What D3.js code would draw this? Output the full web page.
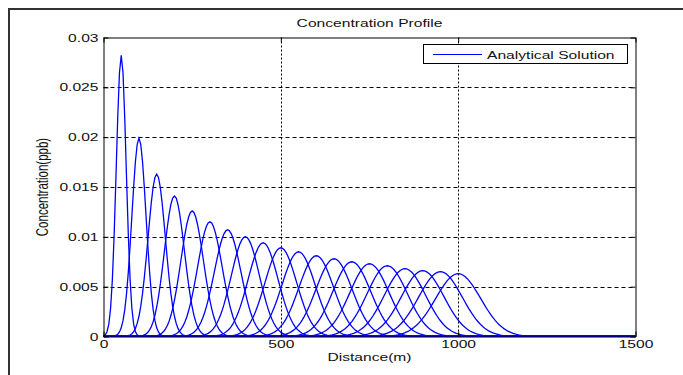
<!DOCTYPE html>
<html>
<head>
<meta charset="utf-8">
<script src="https://cdn.jsdelivr.net/npm/d3@7"></script>
<style>
  body { margin: 0; background: #fff; }
  svg { display: block; }
  text { font-family: "Liberation Sans", Arial, sans-serif; fill: #111; }
</style>
</head>
<body>
<div class="chart"></div>
<script>
// pulse centres (m), peak heights (ppb) and spreads (m)
const peakX = [50, 100, 150, 200, 250, 300, 350, 400, 450, 500,
               550, 600, 650, 700, 750, 800, 850, 900, 950, 1000];
const peakY = [0.0282, 0.0199, 0.0163, 0.0141, 0.0126, 0.0115, 0.0107, 0.0100, 0.0094, 0.0089,
               0.0085, 0.0081, 0.0078, 0.0075, 0.0073, 0.0071, 0.0068, 0.0066, 0.0065, 0.0063];
const spread = [14, 20, 24.5, 28.3, 31.7, 34.7, 37.5, 40, 42.5, 44.8,
                47, 49, 51, 53, 55, 56.7, 58.5, 60, 61.7, 63.3];
const xTicks = [0, 500, 1000, 1500];
const yTicks = [0, 0.005, 0.01, 0.015, 0.02, 0.025, 0.03];
const titleText = "Concentration Profile";
const xLabel = "Distance(m)";
const yLabel = "Concentration(ppb)";
const legendLabel = "Analytical Solution";

const width = 683;
const height = 375;
const plot = { left: 103.5, right: 635.5, top: 37.5, bottom: 336.5 };
const stretch = 1.42; // text in the picture is widened

const x = d3.scaleLinear().domain([0, 1500]).range([plot.left, plot.right]);
const y = d3.scaleLinear().domain([0, 0.03]).range([plot.bottom, plot.top]);

const svg = d3.select(".chart").append("svg")
    .attr("width", width)
    .attr("height", height);

// outer figure frame
svg.append("rect")
    .attr("x", 9).attr("y", 9)
    .attr("width", 800).attr("height", 500)
    .attr("fill", "none")
    .attr("stroke", "#333")
    .attr("stroke-width", 2);

// grid
svg.append("g").selectAll("line")
    .data(yTicks.filter(d => d > 0 && d < 0.03))
    .enter().append("line")
    .attr("x1", plot.left).attr("x2", plot.right)
    .attr("y1", d => Math.round(y(d)) + 0.5).attr("y2", d => Math.round(y(d)) + 0.5)
    .attr("stroke", "#000")
    .attr("stroke-dasharray", "4,3");

svg.append("g").selectAll("line")
    .data(xTicks.filter(d => d > 0 && d < 1500))
    .enter().append("line")
    .attr("x1", d => Math.round(x(d)) + 0.5).attr("x2", d => Math.round(x(d)) + 0.5)
    .attr("y1", plot.top).attr("y2", plot.bottom)
    .attr("stroke", "#000")
    .attr("stroke-dasharray", "2,2");

// curves
svg.append("clipPath").attr("id", "clip")
    .append("rect")
    .attr("x", plot.left).attr("y", plot.top - 2)
    .attr("width", plot.right - plot.left).attr("height", plot.bottom - plot.top + 2);

const samples = d3.range(0, 1501, 5);
const line = d3.line()
    .x(d => x(d[0]))
    .y(d => y(d[1]));

svg.append("g")
    .attr("clip-path", "url(#clip)")
    .selectAll("path")
    .data(peakX.map((c, i) => ({ c, h: peakY[i], s: spread[i] })))
    .enter().append("path")
    .attr("d", p => line(samples.map(v => [v, p.h * Math.exp(-((v - p.c) ** 2) / (2 * p.s * p.s))])))
    .attr("fill", "none")
    .attr("stroke", "#0000ff")
    .attr("stroke-width", 1.3);

// axes box with inward ticks
const axisLeft = d3.axisLeft(y).tickValues(yTicks).tickSizeInner(-5).tickSizeOuter(0)
    .tickPadding(5).tickFormat(d => String(d));
const axisBottom = d3.axisBottom(x).tickValues(xTicks).tickSizeInner(-5).tickSizeOuter(0)
    .tickPadding(4).tickFormat(d => String(d));

const gl = svg.append("g").attr("transform", `translate(${plot.left},0)`).call(axisLeft);
const gb = svg.append("g").attr("transform", `translate(0,${plot.bottom})`).call(axisBottom);
svg.append("g").attr("transform", `translate(${plot.right},0)`)
    .call(d3.axisRight(y).tickValues(yTicks).tickSizeInner(-5).tickSizeOuter(0).tickFormat(""));
svg.append("g").attr("transform", `translate(0,${plot.top})`)
    .call(d3.axisTop(x).tickValues(xTicks).tickSizeInner(-5).tickSizeOuter(0).tickFormat(""));

svg.selectAll(".domain, .tick line").attr("stroke", "#000");
svg.selectAll(".tick text").attr("font-size", 11).attr("fill", "#111").attr("font-family", null);
gl.selectAll(".tick text").attr("x", 0).attr("transform", `translate(-5,0) scale(${stretch},1)`);
gb.selectAll(".tick text").attr("transform", `scale(${stretch},1)`);

// titles
svg.append("text")
    .attr("transform", `translate(${(plot.left + plot.right) / 2},27) scale(${stretch},1)`)
    .attr("text-anchor", "middle")
    .attr("font-size", 11)
    .text(titleText);

svg.append("text")
    .attr("transform", `translate(${(plot.left + plot.right) / 2},361) scale(${stretch},1)`)
    .attr("text-anchor", "middle")
    .attr("font-size", 11)
    .text(xLabel);

svg.append("text")
    .attr("transform", `translate(48,${(plot.top + plot.bottom) / 2}) rotate(-90) scale(1,${stretch})`)
    .attr("text-anchor", "middle")
    .attr("font-size", 11.5)
    .text(yLabel);

// legend
const legend = svg.append("g");
legend.append("rect")
    .attr("x", 423.5).attr("y", 44.5)
    .attr("width", 204).attr("height", 19)
    .attr("fill", "#fff")
    .attr("stroke", "#000");
legend.append("line")
    .attr("x1", 433).attr("x2", 482)
    .attr("y1", 54.5).attr("y2", 54.5)
    .attr("stroke", "#0000ff");
legend.append("text")
    .attr("transform", `translate(487,58.5) scale(${stretch},1)`)
    .attr("font-size", 11)
    .text(legendLabel);
</script>
</body>
</html>
